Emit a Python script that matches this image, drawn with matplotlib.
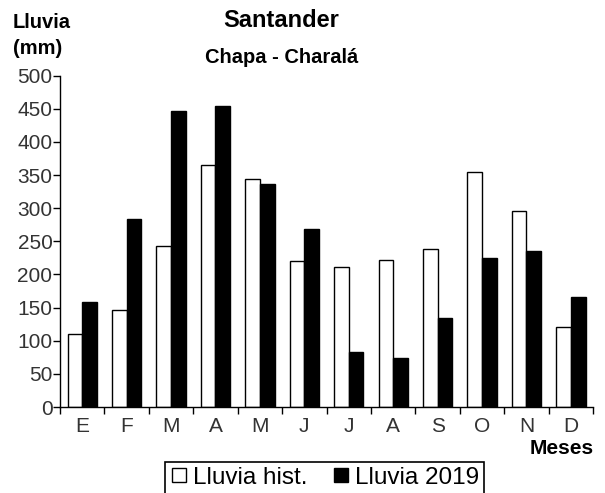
import matplotlib
import matplotlib.pyplot as plt
import numpy as np
from matplotlib.lines import Line2D

plt.rcParams['font.family'] = ['Liberation Sans', 'DejaVu Sans']

meses = ['E', 'F', 'M', 'A', 'M', 'J', 'J', 'A', 'S', 'O', 'N', 'D']
lluvia_hist = [110, 147, 243, 365, 344, 220, 212, 222, 239, 354, 296, 121]
lluvia_2019 = [159, 284, 446, 454, 337, 269, 83, 74, 134, 225, 235, 166]

fig = plt.figure(figsize=(6.05, 4.93), dpi=100)
ax = fig.add_axes([0.0992, 0.1744, 0.8811, 0.6721])

x = np.arange(len(meses))
w = 0.33
ax.bar(x - w / 2, lluvia_hist, w, color='white', edgecolor='black', linewidth=1)
ax.bar(x + w / 2, lluvia_2019, w, color='black', edgecolor='black', linewidth=1)

ax.set_xlim(-0.5, 11.5)
ax.set_ylim(0, 500)
ax.set_yticks(np.arange(0, 501, 50))
ax.set_xticks(x)
ax.set_xticklabels(meses)
ax.set_xticks(np.arange(-0.5, 12, 1), minor=True)
ax.tick_params(axis='x', which='major', length=0, labelsize=15, pad=7.5, labelcolor='#333333')
ax.tick_params(axis='x', which='minor', length=5, width=1)
ax.tick_params(axis='y', length=5, width=1, labelsize=15, pad=0.5, labelcolor='#333333')
ax.tick_params(axis='both', which='both', color='black')

for s in ['top', 'right']:
    ax.spines[s].set_visible(False)
ax.spines['left'].set_linewidth(1)
ax.spines['bottom'].set_linewidth(1)

fig.text(0.465, 0.9446, 'Santander', ha='center', va='baseline', fontsize=17, fontweight='bold')
fig.text(0.466, 0.873, 'Chapa - Charalá', ha='center', va='baseline', fontsize=14.5, fontweight='bold')
fig.text(0.021, 0.9425, 'Lluvia', ha='left', va='baseline', fontsize=14.5, fontweight='bold')
fig.text(0.021, 0.89, '(mm)', ha='left', va='baseline', fontsize=14.5, fontweight='bold')
fig.text(0.982, 0.079, 'Meses', ha='right', va='baseline', fontsize=15, fontweight='bold')

handles = [
    Line2D([], [], marker='s', linestyle='none', markersize=9.5, markerfacecolor='white', markeredgecolor='black', markeredgewidth=1),
    Line2D([], [], marker='s', linestyle='none', markersize=9.5, markerfacecolor='black', markeredgecolor='black'),
]
leg = fig.legend(handles, ['Lluvia hist.', 'Lluvia 2019'], loc='upper center',
                 bbox_to_anchor=(0.536, 1 - 462 / 493), ncol=2, fontsize=17.5,
                 frameon=True, fancybox=False, edgecolor='black', framealpha=1,
                 handlelength=0.75, handletextpad=0.2, columnspacing=1.0,
                 borderpad=0.2, borderaxespad=0)
leg.get_frame().set_linewidth(1.2)

plt.savefig('out.png', dpi=100)
